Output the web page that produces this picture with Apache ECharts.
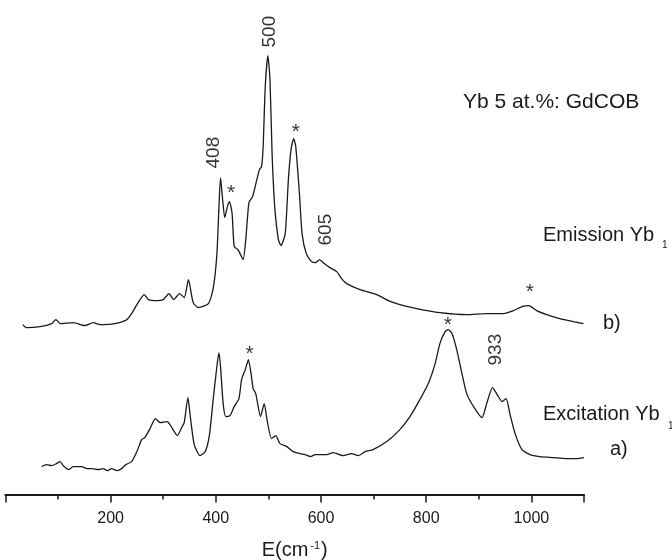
<!DOCTYPE html>
<html>
<head>
<meta charset="utf-8">
<script src="https://cdn.jsdelivr.net/npm/echarts@6/dist/echarts.min.js"></script>
<style>
  html, body { margin: 0; padding: 0; background: #fff; }
  #main { width: 672px; height: 560px; }
</style>
</head>
<body>
<div id="main"></div>
<script>
// emission spectrum b), [E (cm-1), intensity a.u.]
const emission = [
  [33,170],[40,167],[66,168],[88,171],[96,175],[104,171],[129,172],[151,169],[167,172],[180,170],
  [208,171],[231,175],[240,181],[250,190],[264,200],[272,195],[288,194],[300,195],[311,201],[320,195],
  [331,201],[340,197],[348,215],[357,192],[367,187],[386,191],[395,206],[402,240],[406,288],[409,317],
  [413,295],[417,277],[422,288],[426,293],[431,281],[435,248],[442,245],[447,240],[452,235],[457,255],
  [463,292],[470,298],[478,315],[483,325],[487,328],[490,348],[494,408],[499,439],[503,415],[507,341],
  [512,288],[519,255],[524,249],[532,261],[538,315],[543,345],[548,356],[552,348],[559,301],[564,261],
  [572,241],[582,233],[590,232],[597,235],[606,231],[617,227],[630,223],[639,216],[649,211],[674,205],
  [706,200],[728,194],[750,190],[782,186],[826,182],[877,180],[915,181],[947,181],[966,184],[982,188],
  [995,189],[1010,184],[1029,180],[1054,176],[1080,173],[1099,171]
];

// excitation spectrum a)
const excitation = [
  [69,28],[78,30],[88,29],[97,31],[104,33],[110,29],[120,25],[129,28],[145,28],[155,26],
  [164,26],[177,25],[186,26],[194,24],[202,26],[212,24],[221,26],[229,30],[240,33],[250,43],
  [259,55],[265,57],[275,66],[285,76],[294,72],[307,73],[313,70],[321,63],[327,59],[336,68],
  [340,72],[347,97],[352,76],[359,50],[370,39],[380,43],[388,60],[395,95],[402,128],[406,142],
  [409,128],[414,91],[419,78],[427,79],[435,88],[444,96],[449,115],[456,125],[462,135],[467,121],
  [471,106],[476,101],[485,78],[492,91],[498,73],[506,56],[514,59],[522,51],[535,48],[547,43],
  [560,41],[570,40],[580,38],[589,40],[611,40],[623,42],[642,39],[658,41],[671,39],[684,43],
  [699,45],[725,53],[750,65],[769,78],[788,95],[804,111],[817,131],[826,151],[836,163],[842,165],
  [849,161],[858,145],[868,121],[877,101],[890,88],[906,77],[915,91],[926,107],[935,100],[944,93],
  [952,96],[959,81],[969,61],[982,45],[997,40],[1016,38],[1042,37],[1067,36],[1086,36],[1100,37]
];

// peak labels: [E, intensity, text, rotate]
const peakLabels = [
  [503, 463, '500', 90],
  [397, 342, '408', 90],
  [609, 265, '605', 90],
  [932, 145, '933', 90]
];
const starMarks = [
  [429, 301], [552, 362], [997, 202], [841, 169], [464, 140]
];

const FONT = '"Liberation Sans", Arial, Helvetica, sans-serif';
const INK = '#1a1a1a';

var chartDom = document.getElementById('main');
var myChart = echarts.init(chartDom);

const annot = [];
peakLabels.forEach((p) => {
  annot.push({
    value: [p[0], p[1]],
    label: { formatter: p[2], rotate: p[3], fontSize: 19, color: '#000' }
  });
});
starMarks.forEach((s) => {
  annot.push({
    value: [s[0], s[1]],
    label: { formatter: '*', fontSize: 21, color: '#000' }
  });
});

var option = {
  animation: false,
  backgroundColor: '#fff',
  textStyle: { fontFamily: FONT, color: INK },
  grid: { left: 5.4, right: 88, top: 14.6, bottom: 65.4, containLabel: false, outerBoundsMode: 'none' },
  xAxis: {
    type: 'value',
    min: 0,
    max: 1100,
    interval: 200,
    name: '{a|E(cm}{b|-1}{a|)}',
    nameLocation: 'middle',
    nameGap: 46,
    nameTextStyle: {
      rich: {
        a: { fontSize: 20, fontFamily: FONT, color: INK },
        b: { fontSize: 11, fontFamily: FONT, color: INK, verticalAlign: 'top', padding: [0, 1, 8, 2] }
      }
    },
    splitLine: { show: false },
    axisLine: { lineStyle: { color: INK, width: 2 } },
    axisTick: { length: 8, lineStyle: { color: INK, width: 1.5 } },
    minorTick: { show: true, splitNumber: 2, length: 5, lineStyle: { color: INK, width: 1.5 } },
    axisLabel: {
      fontSize: 16, color: INK, fontFamily: FONT, margin: 16,
      showMinLabel: false, showMaxLabel: false,
      formatter: (v) => String(v)
    }
  },
  yAxis: {
    type: 'value',
    min: 0,
    max: 480,
    show: false
  },
  series: [
    {
      name: 'Emission',
      type: 'line',
      data: emission,
      showSymbol: false,
      smooth: 0.2,
      lineStyle: { color: INK, width: 1.3 }
    },
    {
      name: 'Excitation',
      type: 'line',
      data: excitation,
      showSymbol: false,
      smooth: 0.2,
      lineStyle: { color: INK, width: 1.3 }
    },
    {
      type: 'scatter',
      data: annot,
      symbolSize: 0,
      silent: true,
      label: { show: true, position: 'inside', color: '#000', fontFamily: FONT }
    }
  ],
  graphic: [
    { type: 'text', left: 463, top: 92, style: { text: 'Yb 5 at.%: GdCOB', font: '21px ' + FONT, fill: INK } },
    { type: 'text', left: 543, top: 225, style: { text: 'Emission Yb', font: '20px ' + FONT, fill: INK } },
    { type: 'text', left: 662, top: 240, style: { text: '1', font: '10px ' + FONT, fill: INK } },
    { type: 'text', left: 603, top: 313, style: { text: 'b)', font: '20px ' + FONT, fill: INK } },
    { type: 'text', left: 543, top: 404, style: { text: 'Excitation Yb', font: '20px ' + FONT, fill: INK } },
    { type: 'text', left: 668, top: 421, style: { text: '1', font: '10px ' + FONT, fill: INK } },
    { type: 'text', left: 610, top: 439, style: { text: 'a)', font: '20px ' + FONT, fill: INK } }
  ]
};

option && myChart.setOption(option);
</script>
</body>
</html>
